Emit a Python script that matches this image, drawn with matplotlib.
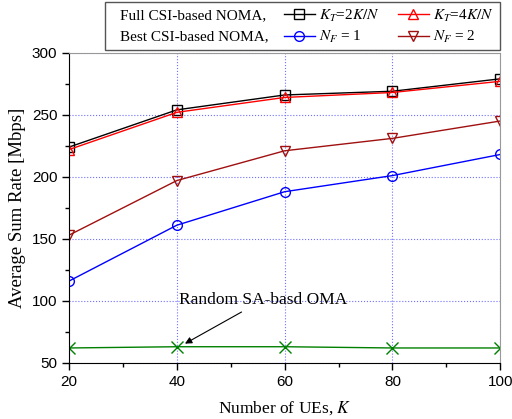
import numpy as np
import matplotlib
matplotlib.use("Agg")
import matplotlib.pyplot as plt
from matplotlib.patches import Rectangle

# data
K = [20, 40, 60, 80, 100]
full_2K = [224, 254, 266, 269, 279]
full_4K = [222, 252, 264, 268, 277]
best_nf1 = [116, 161, 188, 201, 218]
best_nf2 = [153, 197, 221, 231, 245]
oma = [62, 63, 63, 62, 62]

serif = "Liberation Serif"
sans = "Liberation Sans"
plt.rcParams["mathtext.fontset"] = "stix"

fig = plt.figure(figsize=(5.12, 4.19), dpi=100)
ax = fig.add_axes([0.135, 0.134, 0.842, 0.740])

mk = dict(markersize=7, markerfacecolor="none", markeredgewidth=1.0, linewidth=1.0)
h1, = ax.plot(K, full_2K, color="black", marker="s", label=r"$K_T$=2$K/N$", **mk)
h2, = ax.plot(K, full_4K, color="red", marker="^", label=r"$K_T$=4$K/N$", **mk)
h3, = ax.plot(K, best_nf1, color="blue", marker="o", label=r"$N_F$ = 1", **mk)
h4, = ax.plot(K, best_nf2, color="#a01010", marker="v", label=r"$N_F$ = 2", **mk)
ax.plot(K, oma, color="green", marker="x", markersize=9, linewidth=1.0)

ax.set_xlim(20, 100)
ax.set_ylim(50, 300)
ax.set_xticks(K)
ax.set_yticks([50, 100, 150, 200, 250, 300])
ax.set_xticks([30, 50, 70, 90], minor=True)
ax.set_yticks([75, 125, 175, 225, 275], minor=True)
ax.tick_params(which="major", direction="out", length=5, width=1, labelsize=11)
ax.tick_params(which="minor", direction="out", length=3, width=1)
for lab in ax.get_xticklabels() + ax.get_yticklabels():
    lab.set_fontfamily(sans)
ax.grid(True, which="major", color="#7070ff", linestyle=":", linewidth=0.8)
for s in ["top", "right"]:
    ax.spines[s].set_color("#999999")

ax.set_xlabel("Number of UEs, $K$", fontfamily=serif, fontsize=12.5, labelpad=8)
ax.set_ylabel("Average Sum Rate [Mbps]", fontfamily=serif, fontsize=13.5, labelpad=4)

ax.text(56, 101, "Random SA-basd OMA", fontfamily=serif, fontsize=12.5,
        ha="center", va="center")
ax.annotate("", xy=(41.5, 65.5), xytext=(52, 91),
            arrowprops=dict(arrowstyle="-|>", color="black", lw=0.8,
                            shrinkA=0, shrinkB=0, mutation_scale=10))

# legend box above the axes
fig.patches.append(Rectangle((0.205, 0.881), 0.772, 0.114, transform=fig.transFigure,
                             facecolor="white", edgecolor="#555555", linewidth=1.0))
fig.text(0.235, 0.963, "Full CSI-based NOMA,", fontfamily=serif, fontsize=11, va="center")
fig.text(0.235, 0.912, "Best CSI-based NOMA,", fontfamily=serif, fontsize=11, va="center")
leg = fig.legend(handles=[h1, h3, h2, h4], ncol=2, loc="center left",
                 bbox_to_anchor=(0.54, 0.937), frameon=False,
                 prop={"family": serif, "size": 11}, handlelength=2.0,
                 handletextpad=0.3, columnspacing=1.2, labelspacing=0.35,
                 borderpad=0)

fig.savefig("out.png", dpi=100)
